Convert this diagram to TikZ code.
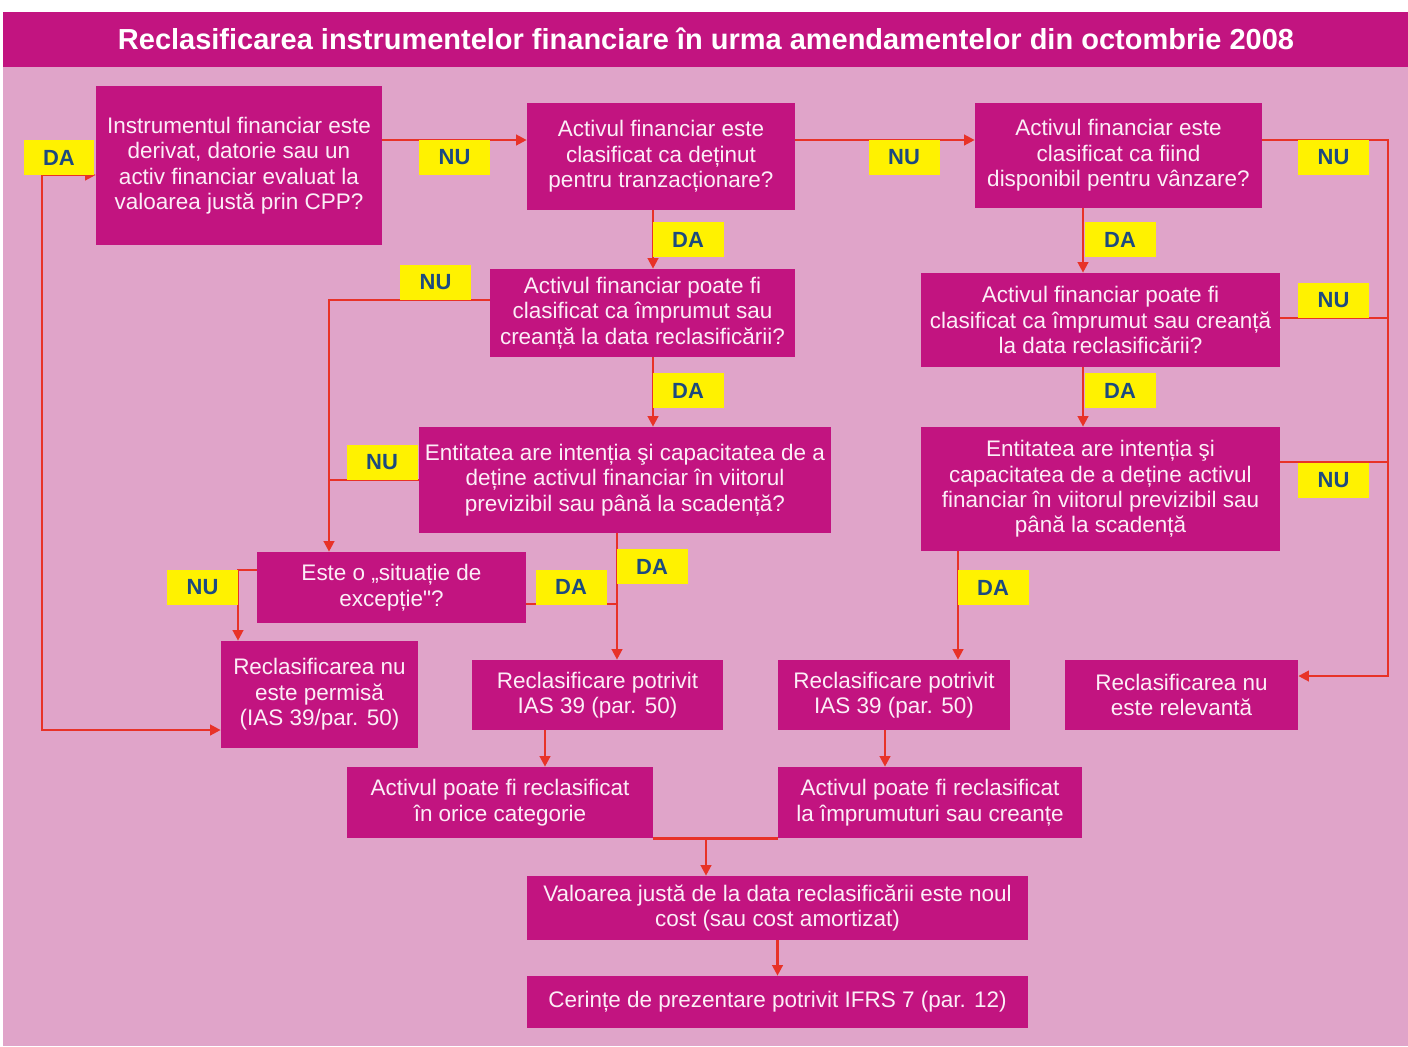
\documentclass[tikz,border=0pt]{standalone}
\usepackage{fontspec}
\setmainfont{Liberation Sans}[Ligatures=TeXOff]
\usepackage{xcolor}
\usetikzlibrary{arrows.meta, calc, positioning}

\definecolor{fondroz}{RGB}{224,164,201}
\definecolor{boxmag}{RGB}{194,20,128}
\definecolor{galben}{RGB}{255,242,0}
\definecolor{bleumarin}{RGB}{28,74,128}
\definecolor{rosu}{RGB}{232,50,40}
\definecolor{textalb}{RGB}{252,238,247}

\tikzset{
  box/.style={fill=boxmag, text=textalb, align=center, inner sep=0pt,
    font=\fontsize{12.8}{14.5}\selectfont},
  lab/.style={fill=galben, text=bleumarin, inner sep=0pt,
    minimum width=1.42cm, minimum height=0.70cm,
    font=\bfseries\fontsize{12.5}{14}\selectfont},
  wire/.style={draw=rosu, line width=1.3pt},
  wirearr/.style={wire, -{Triangle[length=6pt,width=6pt]}},
}

\begin{document}
\begin{tikzpicture}[x=0.02cm, y=-0.02cm]
    \useasboundingbox (0,0) rectangle (1408,1046);
    % fundal si titlu
    \fill[white] (0,0) rectangle (1408,1046);
    \fill[fondroz] (3,67) rectangle (1408,1046);
    \fill[boxmag] (3,12) rectangle (1408,67);
    \node[text=white, font=\bfseries\fontsize{16.5}{18}\selectfont] (titlu) at (706,39)
        {Reclasificarea instrumentelor financiare în urma amendamentelor din octombrie 2008};

    % intrebari
    \node[box, minimum width=5.72cm, minimum height=3.18cm] (q1) at (239,165.5)
        {Instrumentul financiar este\\derivat, datorie sau un\\activ financiar evaluat la\\valoarea justă prin CPP?};
    \node[box, minimum width=5.36cm, minimum height=2.14cm] (q2) at (661,156.5)
        {Activul financiar este\\clasificat ca deținut\\pentru tranzacționare?};
    \node[box, minimum width=5.74cm, minimum height=2.10cm] (q3) at (1118.5,155.5)
        {Activul financiar este\\clasificat ca fiind\\disponibil pentru vânzare?};
    \node[box, minimum width=6.10cm, minimum height=1.76cm] (q4) at (642.5,313)
        {Activul financiar poate fi\\clasificat ca împrumut sau\\creanță la data reclasificării?};
    \node[box, minimum width=8.24cm, minimum height=2.12cm] (q5) at (625,480)
        {Entitatea are intenția şi capacitatea de a\\deține activul financiar în viitorul\\previzibil sau până la scadență?};
    \node[box, minimum width=7.18cm, minimum height=1.88cm] (q6) at (1100.5,320)
        {Activul financiar poate fi\\clasificat ca împrumut sau creanță\\la data reclasificării?};
    \node[box, minimum width=7.18cm, minimum height=2.48cm] (q7) at (1100.5,489)
        {Entitatea are intenția şi\\capacitatea de a deține activul\\financiar în viitorul previzibil sau\\până la scadență};
    \node[box, minimum width=5.38cm, minimum height=1.42cm] (q8) at (391.5,587.5)
        {Este o „situație de\\excepție"?};

    % rezultate
    \node[box, minimum width=3.94cm, minimum height=2.14cm] (r1) at (319.5,694.5)
        {Reclasificarea nu\\este permisă\\(IAS 39/par. 50)};
    \node[box, minimum width=5.02cm, minimum height=1.40cm] (r2) at (597.5,695)
        {Reclasificare potrivit\\IAS 39 (par. 50)};
    \node[box, minimum width=4.64cm, minimum height=1.40cm] (r3) at (894,695)
        {Reclasificare potrivit\\IAS 39 (par. 50)};
    \node[box, minimum width=4.66cm, minimum height=1.40cm] (r4) at (1181.5,695)
        {Reclasificarea nu\\este relevantă};
    \node[box, minimum width=6.12cm, minimum height=1.42cm] (a1) at (500,802.5)
        {Activul poate fi reclasificat\\în orice categorie};
    \node[box, minimum width=6.08cm, minimum height=1.42cm] (a2) at (930,802.5)
        {Activul poate fi reclasificat\\la împrumuturi sau creanțe};
    \node[box, minimum width=10.02cm, minimum height=1.28cm] (v) at (777.5,908)
        {Valoarea justă de la data reclasificării este noul\\cost (sau cost amortizat)};
    \node[box, minimum width=10.02cm, minimum height=1.04cm] (c) at (777.5,1002)
        {Cerințe de prezentare potrivit IFRS 7 (par. 12)};

    % coloane pentru trasee
    \coordinate (colA) at (653,0);
    \coordinate (colB) at (1083,0);
    \coordinate (colC) at (958,0);
    \coordinate (colL) at (329,0);
    \coordinate (colM) at (617,0);
    \coordinate (colN) at (238,0);
    \coordinate (busR) at (1388,676);
    \coordinate (bucla) at (42,730);
    \coordinate (unire) at (706,838);

    % legaturi
    \draw[wirearr] (q1.east |- 0,140) -- (q2.west |- 0,140);
    \draw[wirearr] (q2.east |- 0,140) -- (q3.west |- 0,140);
    \draw[wirearr] (q3.east |- 0,140) -| (busR) -- (r4.east |- busR);
    \draw[wire] (q6.east |- 0,318) -- (busR |- 0,318);
    \draw[wire] (q7.east |- 0,462) -- (busR |- 0,462);
    \draw[wirearr] (colA |- q2.south) -- (colA |- q4.north);
    \draw[wirearr] (colA |- q4.south) -- (colA |- q5.north);
    \draw[wirearr] (q4.west |- 0,300) -| (colL |- q8.north);
    \draw[wire] (q5.west) -- (q5.west -| colL);
    \draw[wirearr] (colM |- q5.south) -- (colM |- r2.north);
    \draw[wire] (q8.east |- 0,604) -- (colM |- 0,604);
    \draw[wirearr] (q8.west |- 0,570) -| (colN |- r1.north);
    \draw[wirearr] (colB |- q3.south) -- (colB |- q6.north);
    \draw[wirearr] (colB |- q6.south) -- (colB |- q7.north);
    \draw[wirearr] (colC |- q7.south) -- (colC |- r3.north);
    \draw[wire, {Triangle[length=6pt,width=6pt]}-{Triangle[length=6pt,width=6pt]}]
        (q1.west |- 0,175) -| (bucla) -- (r1.west |- bucla);
    \draw[wirearr] (545,0 |- r2.south) -- (545,0 |- a1.north);
    \draw[wirearr] (885,0 |- r3.south) -- (885,0 |- a2.north);
    \draw[wire] (a1.south east) -- (a2.south west);
    \draw[wirearr] (unire) -- (unire |- v.north);
    \draw[wirearr] (v.south) -- (c.north);

    % etichete DA / NU
    \foreach \n/\x/\y/\t in {la1/59/157.5/DA, ln1/454.5/157.5/NU, ln2/904/157.5/NU,
        ln3/1333.5/157.5/NU, ld1/688/239.5/DA, ld2/1120/239.5/DA, ln4/435.5/282.5/NU,
        ln5/1333.5/300.5/NU, ld3/688/390.5/DA, ld4/1120/390.5/DA, ln6/382/462.5/NU,
        ln7/1333.5/480.5/NU, ld5/652/566.5/DA, ld6/571/587/DA, ln8/202.5/587.5/NU,
        ld7/993/587.5/DA} {
        \node[lab] (\n) at (\x,\y) {\t};
    }
\end{tikzpicture}
\end{document}
